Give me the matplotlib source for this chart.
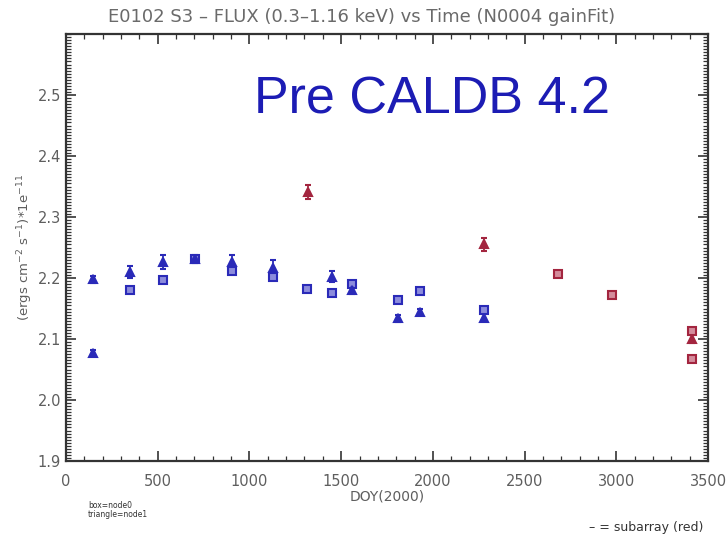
import numpy as np
import matplotlib.pyplot as plt
from matplotlib.ticker import MultipleLocator

# node0 (boxes) and node1 (triangles), full array in blue
doy_box = [349, 527, 703, 903, 1127, 1316, 1449, 1558, 1812, 1932, 2279]
flux_box = [2.180, 2.196, 2.231, 2.212, 2.202, 2.182, 2.176, 2.190, 2.164, 2.178, 2.148]
err_box = [0.004, 0.004, 0.004, 0.004, 0.004, 0.004, 0.004, 0.004, 0.004, 0.004, 0.004]

doy_tri = [149, 149, 349, 527, 703, 903, 1127, 1449, 1558, 1812, 1932, 2279]
flux_tri = [2.198, 2.077, 2.210, 2.226, 2.231, 2.226, 2.217, 2.202, 2.180, 2.134, 2.145, 2.135]
err_tri = [0.006, 0.005, 0.010, 0.012, 0.006, 0.011, 0.012, 0.009, 0.006, 0.006, 0.004, 0.006]

# subarray points in red
doy_box_sub = [2683, 2977, 3410, 3410]
flux_box_sub = [2.207, 2.172, 2.113, 2.067]
err_box_sub = [0.004, 0.004, 0.004, 0.004]

doy_tri_sub = [1321, 2279, 3410]
flux_tri_sub = [2.341, 2.255, 2.100]
err_tri_sub = [0.012, 0.011, 0.006]

blue = '#2a2ab8'
blue_lt = '#8c8cdc'
red = '#a3253f'
red_lt = '#d48c9c'
grey = '#5e5e5e'

fig = plt.figure(figsize=(7.27, 5.38), dpi=100)
ax = fig.add_axes([0.0908, 0.1431, 0.8831, 0.7937])

def draw(x, y, e, marker, col, face, size):
    ax.errorbar(x, y, yerr=e, fmt=marker, ms=size, mfc=face, mec=col, mew=1.5,
                ecolor=col, elinewidth=1.3, capsize=2.5, capthick=1.3)

draw(doy_box, flux_box, err_box, 's', blue, blue_lt, 5.5)
draw(doy_tri, flux_tri, err_tri, '^', blue, blue, 6)
draw(doy_box_sub, flux_box_sub, err_box_sub, 's', red, red_lt, 5.5)
draw(doy_tri_sub, flux_tri_sub, err_tri_sub, '^', red, red, 6)

ax.set_xlim(0, 3500)
ax.set_ylim(1.9, 2.6)
ax.xaxis.set_major_locator(MultipleLocator(500))
ax.xaxis.set_minor_locator(MultipleLocator(100))
ax.yaxis.set_minor_locator(MultipleLocator(0.005))
ax.set_yticks(np.arange(1.9, 2.55, 0.1))
ax.set_yticklabels(['1.9', '2.0', '2.1', '2.2', '2.3', '2.4', '2.5'])
ax.tick_params(which='both', direction='in', top=True, right=True,
               colors='#333333', labelcolor=grey, labelsize=10.5)
ax.tick_params(which='major', length=7, width=1.2)
ax.tick_params(which='minor', length=3.5, width=0.9)
ax.tick_params(axis='x', pad=9)
for s in ax.spines.values():
    s.set_linewidth(1.6)
    s.set_color('#333333')

ax.set_title('E0102 S3 \u2013 FLUX (0.3\u20131.16 keV) vs Time (N0004 gainFit)',
             fontsize=13, color='#6a6a6a', pad=9, x=0.46)
ax.set_xlabel('DOY(2000)', fontsize=10, color=grey, labelpad=1)
ax.set_ylabel(r'(ergs cm$^{-2}$ s$^{-1}$)*1e$^{-11}$', fontsize=9.5, color=grey,
              labelpad=2)

ax.text(0.293, 0.845, 'Pre CALDB 4.2', transform=ax.transAxes,
        fontsize=37.5, color='#1c1cb4', family='Liberation Sans', va='center')

fig.text(0.121, 0.052, 'box=node0\ntriangle=node1', fontsize=5.5,
         color='#333333', va='center', linespacing=1.0)
fig.text(0.968, 0.020, '\u2013 = subarray (red)', fontsize=9,
         color='#333333', ha='right', va='center')

fig.savefig('out.png', dpi=100)
